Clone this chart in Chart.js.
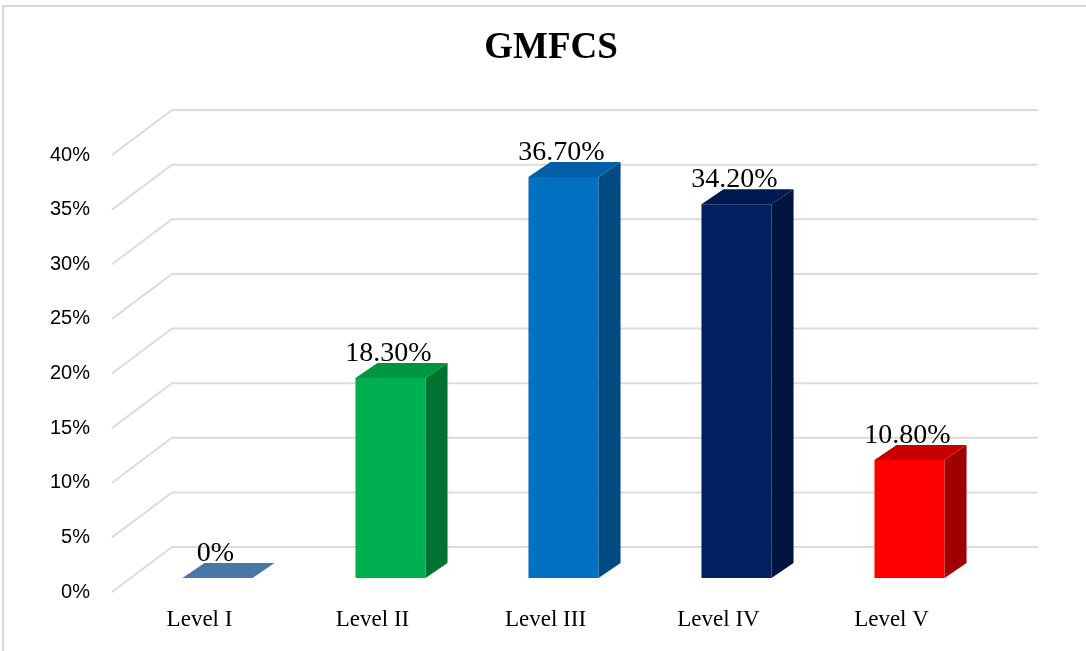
<!DOCTYPE html>
<html>
<head>
<meta charset="utf-8">
<script src="https://cdn.jsdelivr.net/npm/chart.js@4.4.1/dist/chart.umd.min.js"></script>
<style>
  html, body { margin: 0; padding: 0; background: #fff; overflow: hidden; }
  #wrap { position: relative; width: 1086px; height: 651px; }
  #frame {
    position: absolute; left: 2px; top: 5px;
    width: 1200px; height: 800px;
    border: 2px solid #d9d9d9;
    box-sizing: border-box;
  }
  #gmfcs { position: absolute; left: 0; top: 0; }
</style>
</head>
<body>
<div id="wrap">
  <div id="frame"></div>
  <canvas id="gmfcs" width="1086" height="651"></canvas>
</div>
<script>
/* =====================================
   GMFCS LEVELS
===================================== */

const levels = ["Level I", "Level II", "Level III", "Level IV", "Level V"];

const shares = [0, 18.3, 36.7, 34.2, 10.8];

const percentTicks = [0, 5, 10, 15, 20, 25, 30, 35, 40];

// face colours per bar: front, right side, top
const frontColors = ["#4a78a6", "#00b050", "#0070c0", "#002060", "#ff0000"];
const sideColors  = ["#3a6590", "#007232", "#004b82", "#00143f", "#a00000"];
const topColors   = ["#4a78a6", "#00963f", "#005fa6", "#001a4f", "#c80000"];

/* ==========================
   3D LOOK
========================== */

// bars sit a little behind the axis plane
const BAR_SHIFT_X = 18;
const BAR_SHIFT_Y = -14;

// depth of each bar
const DEPTH_X = 22;
const DEPTH_Y = -15;

// depth of the back wall
const WALL_X = 60;
const WALL_Y = -45;

const bar3d = {

    id: "bar3d",

    beforeDatasetsDraw(chart){

        const ctx = chart.ctx;
        const area = chart.chartArea;
        const y = chart.scales.y;

        ctx.save();
        ctx.strokeStyle = "#dcdcdc";
        ctx.lineWidth = 2;

        percentTicks.forEach(v => {
            const py = y.getPixelForValue(v);
            ctx.beginPath();
            ctx.moveTo(area.left - 1, py);
            ctx.lineTo(area.left - 1 + WALL_X, py + WALL_Y);
            ctx.lineTo(area.right + WALL_X, py + WALL_Y);
            ctx.stroke();
        });

        ctx.restore();

    },

    beforeDatasetDraw(chart){

        chart.ctx.save();
        chart.ctx.translate(BAR_SHIFT_X, BAR_SHIFT_Y);

    },

    afterDatasetDraw(chart, args){

        const ctx = chart.ctx;

        args.meta.data.forEach((bar, i) => {

            const p = bar.getProps(["x", "y", "base", "width"], true);
            const l = p.x - p.width / 2;
            const r = p.x + p.width / 2;

            // right side
            if(p.base - p.y > 0.5){
                ctx.fillStyle = sideColors[i];
                ctx.beginPath();
                ctx.moveTo(r, p.y);
                ctx.lineTo(r + DEPTH_X, p.y + DEPTH_Y);
                ctx.lineTo(r + DEPTH_X, p.base + DEPTH_Y);
                ctx.lineTo(r, p.base);
                ctx.closePath();
                ctx.fill();
            }

            // top
            ctx.fillStyle = topColors[i];
            ctx.beginPath();
            ctx.moveTo(l, p.y);
            ctx.lineTo(l + DEPTH_X, p.y + DEPTH_Y);
            ctx.lineTo(r + DEPTH_X, p.y + DEPTH_Y);
            ctx.lineTo(r, p.y);
            ctx.closePath();
            ctx.fill();

        });

        ctx.restore();

    },

    afterDatasetsDraw(chart){

        const ctx = chart.ctx;
        const meta = chart.getDatasetMeta(0);

        ctx.save();
        ctx.font = "28px 'Liberation Serif', 'Times New Roman', serif";
        ctx.fillStyle = "#000";
        ctx.textAlign = "center";
        ctx.textBaseline = "alphabetic";

        meta.data.forEach((bar, i) => {
            const v = shares[i];
            const text = v === 0 ? "0%" : v.toFixed(2) + "%";
            ctx.fillText(text, bar.x + BAR_SHIFT_X - 2, bar.y + BAR_SHIFT_Y - 17);
        });

        ctx.restore();

    }

};

/* ==========================
   CHART
========================== */

new Chart(document.getElementById("gmfcs"), {

    type: "bar",

    data: {
        labels: levels,
        datasets: [{
            label: "GMFCS",
            data: shares,
            backgroundColor: frontColors,
            borderWidth: 0,
            categoryPercentage: 1,
            barPercentage: 0.405
        }]
    },

    options: {

        responsive: false,
        animation: false,
        events: [],

        layout: {
            padding: { left: 16, right: 0, top: 0, bottom: 0 }
        },

        plugins: {
            legend: { display: false },
            tooltip: { enabled: false },
            title: {
                display: true,
                text: "GMFCS",
                color: "#000",
                font: { family: "'Liberation Serif', 'Times New Roman', serif", size: 37, weight: "bold" },
                padding: { top: 26, bottom: 84.6 }
            }
        },

        scales: {

            x: {
                grid: { display: false, drawTicks: false },
                border: { display: false },
                ticks: {
                    color: "#000",
                    padding: 14,
                    font: { family: "'Liberation Serif', 'Times New Roman', serif", size: 23 }
                },
                afterFit(scale){ scale.height = 59; }
            },

            y: {
                min: 0,
                max: 40,
                grid: { display: false, drawTicks: false },
                border: { display: false },
                afterBuildTicks(scale){
                    scale.ticks = percentTicks.map(v => ({ value: v }));
                },
                ticks: {
                    color: "#000",
                    padding: 23,
                    font: { family: "'Liberation Sans', Arial, sans-serif", size: 20 },
                    callback: v => v + "%"
                },
                afterFit(scale){ scale.width = 97; }
            },

            // empty right axis leaves room for the back wall
            wall: {
                position: "right",
                min: 0,
                max: 40,
                grid: { display: false, drawTicks: false },
                border: { display: false },
                ticks: { display: false },
                afterFit(scale){ scale.width = 108; }
            }

        }

    },

    plugins: [bar3d]

});
</script>
</body>
</html>
